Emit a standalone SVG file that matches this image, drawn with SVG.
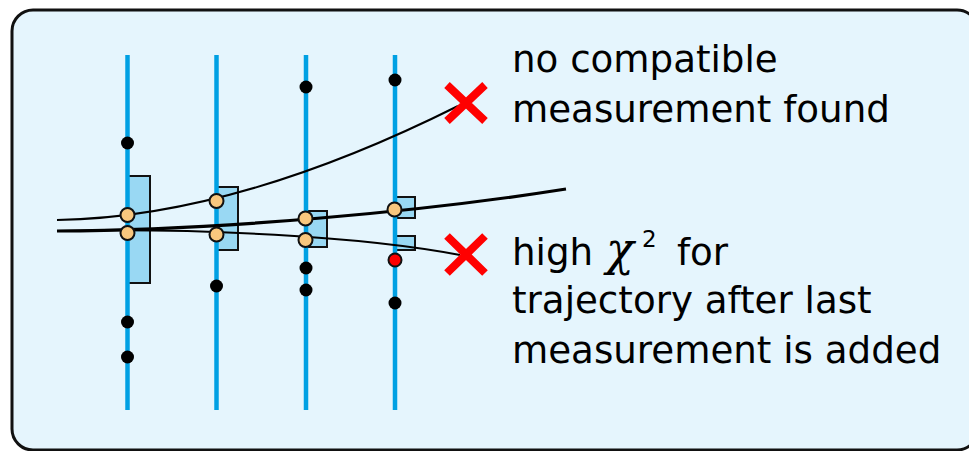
<svg xmlns="http://www.w3.org/2000/svg" width="969" height="451" viewBox="0 0 969 451">
<style>
.det{stroke:#00A0E3;stroke-width:4.5;fill:none}
.box{fill:#99D8F3;stroke:#111;stroke-width:2}
.hit{fill:#000}
.est{fill:#F8C77E;stroke:#111;stroke-width:2}
.trk{fill:none;stroke:#000;stroke-width:2}
.trk-main{fill:none;stroke:#000;stroke-width:3.2}
.cross{stroke:#FF0000;stroke-width:8;fill:none}
.lbl{font-family:"DejaVu Sans",sans-serif;font-size:37.2px;fill:#000}
</style>
<rect x="12" y="10" width="966" height="440" rx="21" ry="21" fill="#E5F5FD" stroke="#111" stroke-width="3"/>
<g id="boxes">
<rect class="box" x="127" y="176" width="23" height="107"/>
<rect class="box" x="216" y="187" width="22" height="63"/>
<rect class="box" x="305" y="211" width="22" height="36"/>
<rect class="box" x="395" y="197" width="20" height="21"/>
<rect class="box" x="395" y="236" width="20" height="14"/>
</g>
<g id="detectors">
<line class="det" x1="127.5" y1="55" x2="127.5" y2="410"/>
<line class="det" x1="216.5" y1="55" x2="216.5" y2="410"/>
<line class="det" x1="306" y1="55" x2="306" y2="410"/>
<line class="det" x1="395" y1="55" x2="395" y2="410"/>
</g>
<g id="connectors">
<path class="trk" d="M57,220 C190,218 330,170 458,106"/>
<path class="trk" d="M57,231 C200,228 360,236 460,255"/>
<path class="trk-main" d="M57,231 C220,230 420,212 566,189"/>
</g>
<g id="hits">
<circle class="hit" cx="127.5" cy="143" r="6.5"/>
<circle class="hit" cx="127.5" cy="322" r="6.5"/>
<circle class="hit" cx="127.5" cy="357" r="6.5"/>
<circle class="hit" cx="216.5" cy="286" r="6.5"/>
<circle class="hit" cx="306" cy="87" r="6.5"/>
<circle class="hit" cx="306" cy="268" r="6.5"/>
<circle class="hit" cx="306" cy="290" r="6.5"/>
<circle class="hit" cx="395" cy="80" r="6.5"/>
<circle class="hit" cx="395" cy="303" r="6.5"/>
<circle cx="395" cy="260" r="6.5" fill="#FF0000" stroke="#111" stroke-width="2"/>
</g>
<g id="estimates">
<circle class="est" cx="127.5" cy="215" r="7"/>
<circle class="est" cx="127.5" cy="233" r="7"/>
<circle class="est" cx="216.5" cy="201" r="7"/>
<circle class="est" cx="216.5" cy="234.5" r="7"/>
<circle class="est" cx="305.5" cy="218.5" r="7"/>
<circle class="est" cx="305.5" cy="240" r="7"/>
<circle class="est" cx="394.5" cy="209.5" r="7"/>
</g>
<g id="cross-top">
<path class="cross" d="M447,85 L485,121 M485,85 L447,121"/>
</g>
<g id="cross-bottom">
<path class="cross" d="M447,236 L485,273 M485,236 L447,273"/>
</g>
<g id="label-top">
<text class="lbl" x="512" y="72">no compatible</text>
<text class="lbl" x="512" y="122">measurement found</text>
</g>
<g id="label-bottom">
<text class="lbl" x="512" y="265">high</text>
<text x="606" y="265" font-family="'DejaVu Serif',serif" font-style="italic" font-size="46" fill="#000">χ</text>
<text x="642" y="247" font-family="'DejaVu Sans',sans-serif" font-size="23" fill="#000">2</text>
<text class="lbl" x="677" y="265">for</text>
<text class="lbl" x="512" y="313">trajectory after last</text>
<text class="lbl" x="512" y="363">measurement is added</text>
</g>
</svg>
